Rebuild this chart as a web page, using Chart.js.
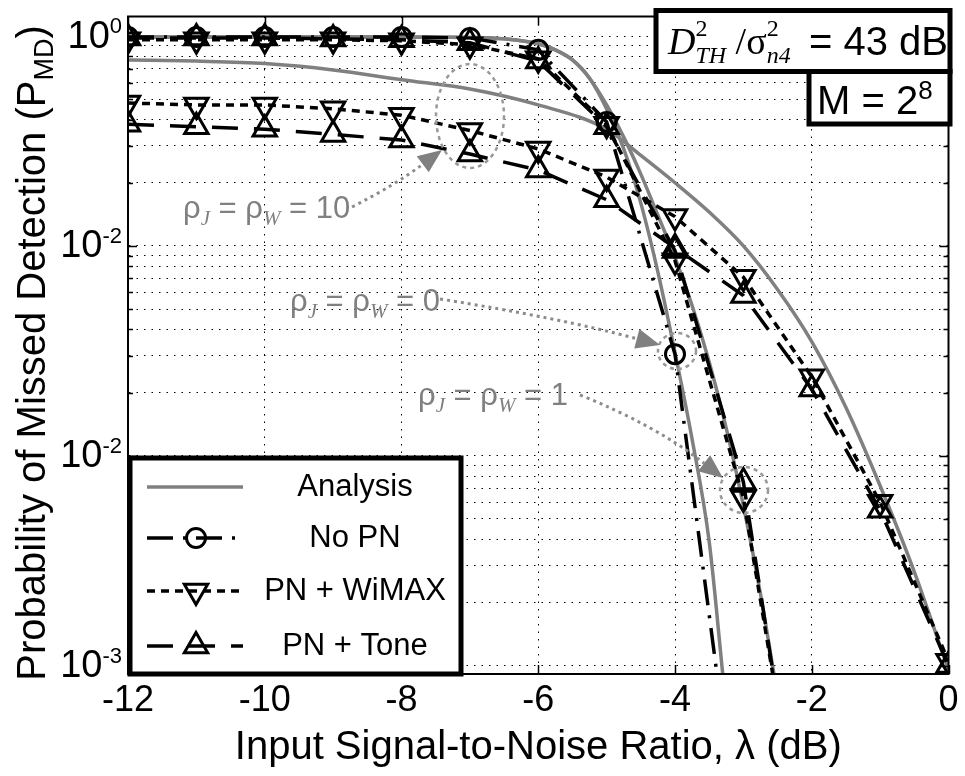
<!DOCTYPE html>
<html>
<head>
<meta charset="utf-8">
<script src="https://cdn.jsdelivr.net/npm/chart.js@4.4.1/dist/chart.umd.min.js"></script>
<style>
  html, body { margin: 0; padding: 0; background: #fff; }
  canvas { display: block; }
</style>
</head>
<body>
<canvas id="myChart" width="965" height="776"></canvas>
<script>
const ctx = document.getElementById('myChart');

// simulated points, x = input SNR (dB)
const snr = [-12, -11, -10, -9, -8, -7, -6, -5, -4, -3, -2, -1, 0];
const noPN = [0.99, 0.99, 0.99, 0.99, 0.99, 0.98, 0.86, 0.39, 0.0305, 0.0001];
const wimaxRho1 = [0.96, 0.96, 0.96, 0.96, 0.95, 0.91, 0.78, 0.38, 0.085, 0.0063, 0.00007];
const toneRho1 = [0.98, 0.98, 0.98, 0.97, 0.96, 0.93, 0.76, 0.37, 0.095, 0.0075, 0.00006];
const wimaxRho10 = [0.48, 0.47, 0.47, 0.45, 0.42, 0.355, 0.29, 0.213, 0.138, 0.071, 0.0238, 0.0060, 0.00105];
const toneRho10 = [0.38, 0.37, 0.36, 0.34, 0.32, 0.274, 0.23, 0.166, 0.098, 0.058, 0.0208, 0.0055, 0.001];

// analysis curves
const snrAna0 = [-12, -10, -8, -7, -6.5, -6, -5.75, -5.5, -5.25, -5, -4.75, -4.5, -4.25, -4, -3.75, -3.5, -3.3];
const anaRho0 = [0.99, 0.99, 0.99, 0.985, 0.97, 0.92, 0.86, 0.77, 0.63, 0.45, 0.29, 0.16, 0.075, 0.031, 0.012, 0.0039, 0.0009];
const snrAna1 = [-12, -10, -8, -7, -6.5, -6, -5.75, -5.5, -5.25, -5, -4.75, -4.5, -4.25, -4, -3.75, -3.5, -3.25, -3, -2.75, -2.55];
const anaRho1 = [0.99, 0.99, 0.99, 0.985, 0.97, 0.92, 0.86, 0.77, 0.63, 0.47, 0.33, 0.22, 0.14, 0.088, 0.052, 0.028, 0.0135, 0.0058, 0.0022, 0.0009];
const snrAna10 = [-12, -11, -10, -9, -8, -7, -6, -5, -4.5, -4, -3.5, -3, -2.5, -2, -1.5, -1, -0.5, 0];
const anaRho10 = [0.77, 0.76, 0.74, 0.69, 0.62, 0.56, 0.47, 0.36, 0.27, 0.2, 0.145, 0.1, 0.062, 0.035, 0.017, 0.0072, 0.0028, 0.00095];

const xTicks = [-12, -10, -8, -6, -4, -2, 0];
const yTickValues = [1, 0.1, 0.01, 0.001];
const yTickExps = ['0', '-2', '-2', '-3'];
const legendLabels = ['Analysis', 'No PN', 'PN + WiMAX', 'PN + Tone'];

const sans = "'Liberation Sans', Arial, Helvetica, sans-serif";
const serif = "'Liberation Serif', 'Times New Roman', serif";
const GRAY = '#808080';
const dashNoPN = [26, 10, 3, 10];
const dashWimax = [8, 6];
const dashTone = [26, 16];

const pts = (xs, ys) => ys.map((v, i) => ({ x: xs[i], y: v }));

function simSet(label, ys, dash, style, rot, r) {
    return {
        label: label,
        data: pts(snr, ys),
        borderColor: '#000',
        borderWidth: 3.5,
        borderDash: dash,
        pointStyle: style,
        rotation: rot,
        pointRadius: r,
        pointBorderWidth: 3,
        pointBorderColor: '#000',
        pointBackgroundColor: 'rgba(255,255,255,0)',
        tension: 0,
        order: 1
    };
}

function anaSet(xs, ys) {
    return {
        label: 'Analysis',
        data: pts(xs, ys),
        borderColor: GRAY,
        borderWidth: 3.5,
        pointRadius: 0,
        cubicInterpolationMode: 'monotone',
        order: 10
    };
}

const sNoPN = simSet('No PN', noPN, dashNoPN, 'circle', 0, 9.5);
const sW1 = simSet('PN + WiMAX', wimaxRho1, dashWimax, 'triangle', 180, 13.5);
const sT1 = simSet('PN + Tone', toneRho1, dashTone, 'triangle', 0, 13.5);
const sW10 = simSet('PN + WiMAX', wimaxRho10, dashWimax, 'triangle', 180, 13.5);
const sT10 = simSet('PN + Tone', toneRho10, dashTone, 'triangle', 0, 13.5);
const a0 = anaSet(snrAna0, anaRho0);
const a1 = anaSet(snrAna1, anaRho1);
const a10 = anaSet(snrAna10, anaRho10);

// minor/major grid values on the log axis
const yGrid = [];
for (let e = -3; e <= 0; e++) {
    for (let k = 1; k <= 9; k++) {
        const v = k * Math.pow(10, e);
        if (v <= 1) yGrid.push(v);
    }
}

function marker(c, style, rot, r, x, y) {
    c.beginPath();
    if (style === 'circle') {
        c.arc(x, y, r, 0, Math.PI * 2);
    } else {
        let rad = rot * Math.PI / 180;
        for (let i = 0; i < 3; i++) {
            const px = x + Math.sin(rad) * r, py = y - Math.cos(rad) * r;
            if (i === 0) c.moveTo(px, py); else c.lineTo(px, py);
            rad += Math.PI * 2 / 3;
        }
        c.closePath();
    }
    c.stroke();
}

function rich(c, parts, x, y, align) {
    let w = 0;
    parts.forEach(p => { c.font = p[1]; if (p[3] !== 0) w += c.measureText(p[0]).width; });
    let cx = align === 'center' ? x - w / 2 : (align === 'right' ? x - w : x);
    parts.forEach(p => {
        c.font = p[1];
        c.fillText(p[0], cx, y + (p[2] || 0));
        if (p[3] !== 0) cx += c.measureText(p[0]).width;
    });
}

function arrow(c, x0, y0, cxp, cyp, tx, ty) {
    const dx = tx - cxp, dy = ty - cyp, L = Math.hypot(dx, dy);
    const ux = dx / L, uy = dy / L;
    const bx = tx - ux * 24, by = ty - uy * 24;
    c.strokeStyle = '#8c8c8c';
    c.lineWidth = 3;
    c.setLineDash([3, 4]);
    c.beginPath();
    c.moveTo(x0, y0);
    c.quadraticCurveTo(cxp, cyp, bx, by);
    c.stroke();
    c.setLineDash([]);
    c.fillStyle = '#808080';
    c.beginPath();
    c.moveTo(tx, ty);
    c.lineTo(bx - uy * 10, by + ux * 10);
    c.lineTo(bx + uy * 10, by - ux * 10);
    c.closePath();
    c.fill();
}

function ellipse(c, x, y, rx, ry) {
    c.strokeStyle = '#999';
    c.lineWidth = 2.5;
    c.setLineDash([4, 4]);
    c.beginPath();
    c.ellipse(x, y, rx, ry, 0, 0, Math.PI * 2);
    c.stroke();
    c.setLineDash([]);
}

function rhoLabel(c, tail, x, y) {
    c.fillStyle = GRAY;
    c.textBaseline = 'alphabetic';
    rich(c, [
        ['\u03C1', '31px ' + sans, 0],
        ['J', 'italic 21px ' + serif, 7],
        [' = \u03C1', '31px ' + sans, 0],
        ['W', 'italic 21px ' + serif, 7],
        [' = ' + tail, '31px ' + sans, 0]
    ], x, y, 'left');
}

const decor = {
    id: 'decor',
    afterDatasetsDraw(chart) {
        const c = chart.ctx, a = chart.chartArea, xs = chart.scales.x, ys = chart.scales.y;
        c.save();
        // axes box and inward ticks
        c.strokeStyle = '#000';
        c.lineWidth = 2;
        c.setLineDash([]);
        c.strokeRect(a.left, a.top, a.right - a.left, a.bottom - a.top);
        c.lineWidth = 1.5;
        c.beginPath();
        yGrid.forEach(v => {
            const py = Math.round(ys.getPixelForValue(v)) + 0.5;
            const len = [1, 0.1, 0.01, 0.001].includes(v) ? 9 : 5;
            c.moveTo(a.left, py); c.lineTo(a.left + len, py);
            c.moveTo(a.right, py); c.lineTo(a.right - len, py);
        });
        xTicks.forEach(v => {
            const px = Math.round(xs.getPixelForValue(v)) + 0.5;
            c.moveTo(px, a.top); c.lineTo(px, a.top + 9);
            c.moveTo(px, a.bottom); c.lineTo(px, a.bottom - 9);
        });
        c.stroke();

        // annotations
        ellipse(c, 470, 116, 34, 52);
        ellipse(c, 677, 351, 19, 18);
        ellipse(c, 744, 490, 24, 23);
        arrow(c, 352, 207, 395, 185, 442, 150);
        arrow(c, 440, 299, 560, 318, 660, 345);
        arrow(c, 580, 395, 655, 425, 723, 478);
        rhoLabel(c, '10', 183, 218);
        rhoLabel(c, '0', 290, 311);
        rhoLabel(c, '1', 418, 405);

        // parameter boxes
        c.fillStyle = '#fff';
        c.fillRect(656, 10, 294, 62);
        c.fillRect(809, 72, 141, 52);
        c.strokeStyle = '#000';
        c.lineWidth = 5;
        c.strokeRect(656, 10.5, 294, 61);
        c.strokeRect(809, 71.5, 141, 52.5);
        c.fillStyle = '#000';
        c.textBaseline = 'alphabetic';
        rich(c, [
            ['D', 'italic 38px ' + serif, 0],
            ['2', '24px ' + serif, -18, 0],
            ['TH', 'italic 24px ' + serif, 9],
            [' /', '38px ' + serif, 0],
            ['\u03C3', '38px ' + serif, 0],
            ['2', '24px ' + serif, -18, 0],
            ['n4', 'italic 24px ' + serif, 9]
        ], 668, 54, 'left');
        c.font = '40px ' + sans;
        c.textAlign = 'right';
        c.fillText('= 43 dB', 948, 55);
        c.textAlign = 'left';
        rich(c, [['M = 2', '40px ' + sans, 0], ['8', '26px ' + sans, -15]], 817, 114, 'left');

        // legend
        c.fillStyle = '#fff';
        c.fillRect(130, 458, 331, 216);
        c.strokeStyle = '#000';
        c.lineWidth = 5;
        c.strokeRect(130, 458, 331, 216);
        const rows = [487, 538, 591, 646];
        const styles = [a0, sNoPN, sW10, sT10];
        styles.forEach((ds, i) => {
            const yy = rows[i];
            c.strokeStyle = ds.borderColor;
            c.lineWidth = ds.borderWidth;
            c.setLineDash(ds.borderDash || []);
            c.beginPath();
            c.moveTo(147, yy);
            c.lineTo(243, yy);
            c.stroke();
            c.setLineDash([]);
            if (ds.pointRadius > 0) {
                c.lineWidth = ds.pointBorderWidth;
                marker(c, ds.pointStyle, ds.rotation, ds.pointRadius, 196, yy);
            }
            c.fillStyle = '#000';
            c.font = '31px ' + sans;
            c.textAlign = 'center';
            c.textBaseline = 'middle';
            c.fillText(legendLabels[i], 355, yy);
        });

        // y tick labels 10^n
        c.fillStyle = '#000';
        c.textBaseline = 'middle';
        yTickValues.forEach((v, i) => {
            const py = ys.getPixelForValue(v);
            c.textAlign = 'right';
            c.font = '22px ' + sans;
            c.fillText(yTickExps[i], 122, py - 9);
            const ew = c.measureText(yTickExps[i]).width;
            c.font = '38px ' + sans;
            c.fillText('10', 122 - ew, py + 1);
        });

        // y axis title with subscript
        c.translate(45, 353);
        c.rotate(-Math.PI / 2);
        c.textAlign = 'left';
        c.textBaseline = 'alphabetic';
        rich(c, [
            ['Probability of Missed Detection (P', '40px ' + sans, 0],
            ['MD', '27px ' + sans, 8],
            [')', '40px ' + sans, 0]
        ], 0, 0, 'center');
        c.restore();
    }
};

const data = {
    datasets: [sNoPN, sW1, sT1, sW10, sT10, a0, a1, a10]
};

const config = {
    type: 'line',
    data: data,
    options: {
        responsive: false,
        animation: false,
        layout: { padding: { left: 0, right: 14, top: 7, bottom: 0 } },
        plugins: { legend: { display: false }, tooltip: { enabled: false } },
        scales: {
            x: {
                type: 'linear',
                min: -12,
                max: 0,
                afterBuildTicks: s => { s.ticks = xTicks.map(v => ({ value: v })); },
                afterFit: s => { s.height = 102; },
                ticks: {
                    color: '#000',
                    font: { family: sans, size: 36 },
                    padding: 5,
                    maxRotation: 0,
                    autoSkip: false,
                    callback: v => String(v)
                },
                grid: { color: '#000', lineWidth: 1, drawTicks: false },
                border: { display: true, color: '#000', width: 2, dash: [1.5, 6] },
                title: {
                    display: true,
                    text: 'Input Signal-to-Noise Ratio, \u03BB (dB)',
                    color: '#000',
                    font: { family: sans, size: 40 },
                    padding: { top: 0, bottom: 4 }
                }
            },
            y: {
                type: 'logarithmic',
                min: 0.000912,
                max: 1.24,
                afterBuildTicks: s => { s.ticks = yGrid.map(v => ({ value: v })); },
                afterFit: s => { s.width = 128; },
                ticks: { display: false, autoSkip: false },
                grid: { color: '#000', lineWidth: 1, drawTicks: false },
                border: { display: true, color: '#000', width: 2, dash: [1.5, 6] }
            }
        }
    },
    plugins: [decor]
};

const myChart = new Chart(ctx, config);
</script>
</body>
</html>
